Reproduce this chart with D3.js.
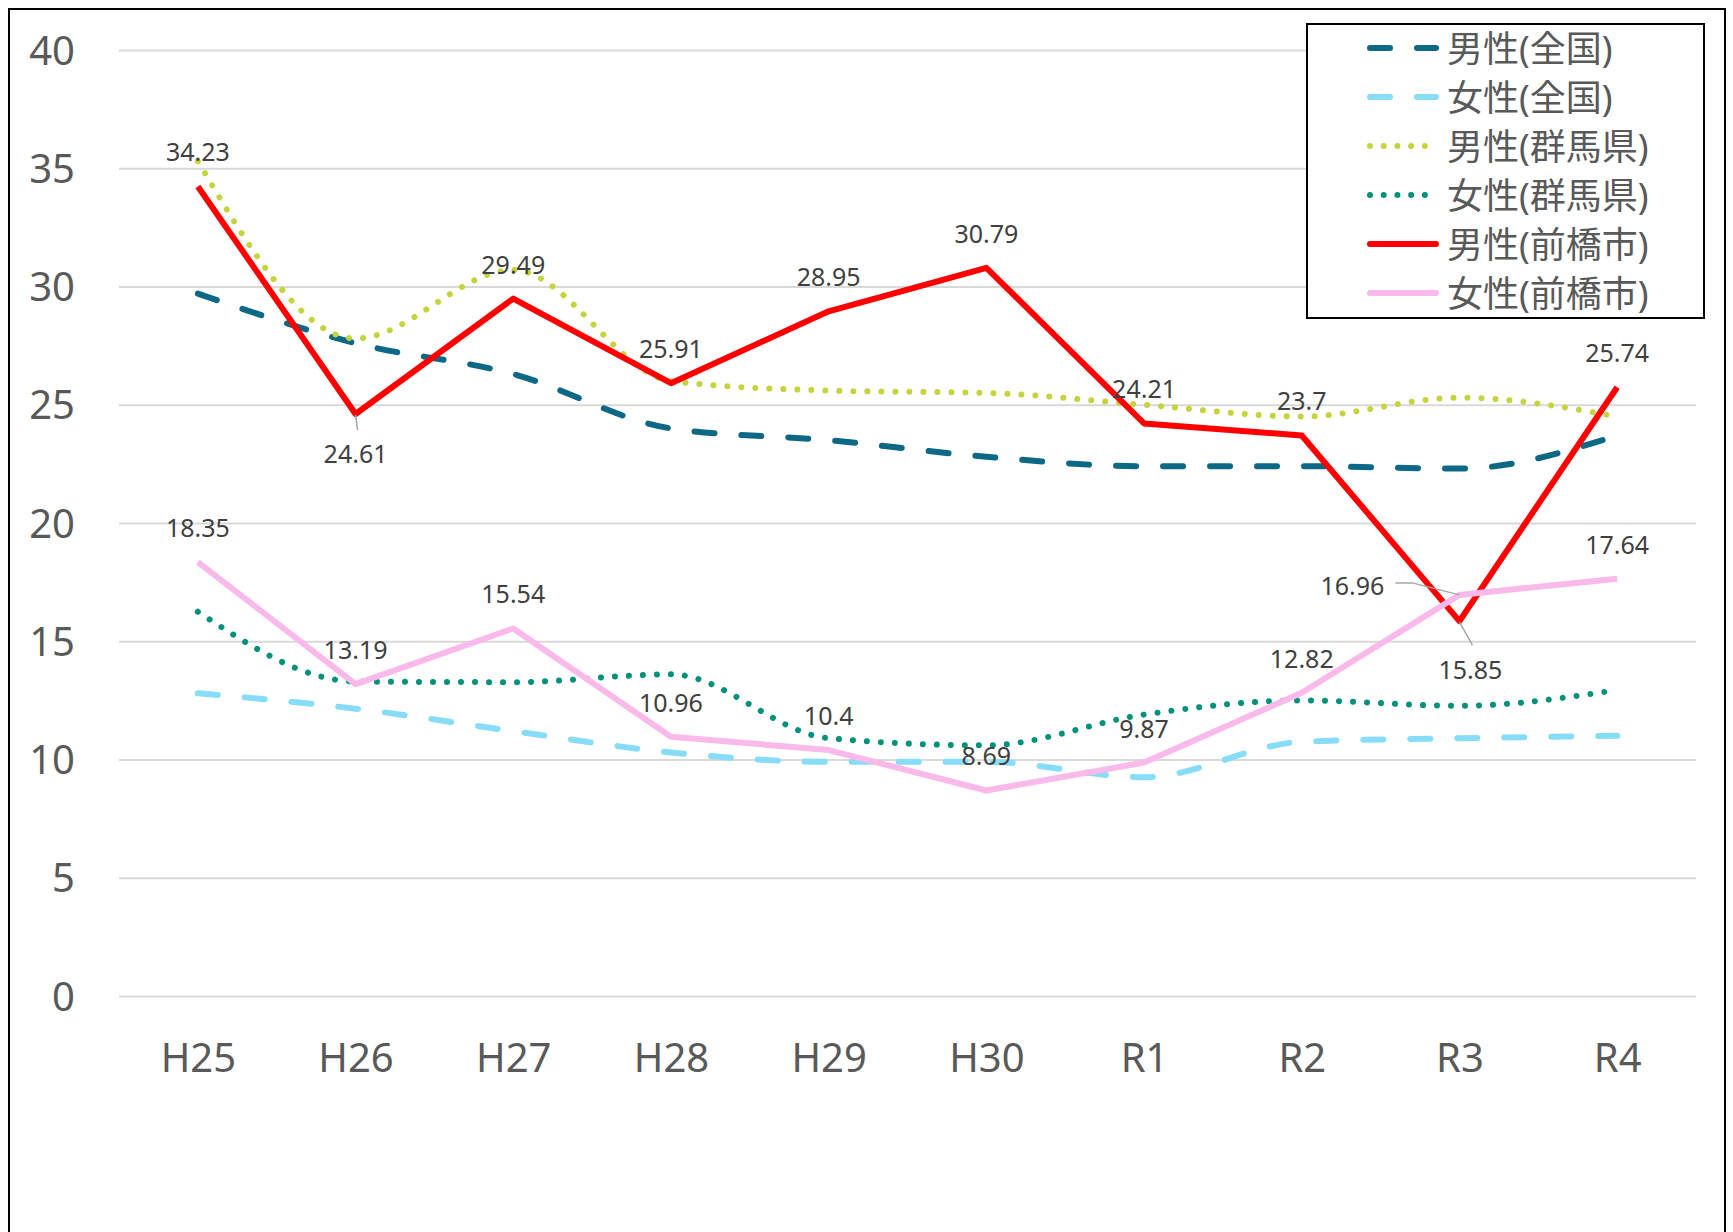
<!DOCTYPE html>
<html>
<head>
<meta charset="utf-8">
<script src="https://cdn.jsdelivr.net/npm/d3@7"></script>
<style>
  html, body { margin: 0; padding: 0; background: #fff; }
  svg { display: block; }
  text { font-family: "Noto Sans", "Noto Sans CJK JP", sans-serif; }
</style>
</head>
<body>
<svg id="chart"></svg>
<script>
"use strict";

// data
const categories = ["H25", "H26", "H27", "H28", "H29", "H30", "R1", "R2", "R3", "R4"];
const maleNational = [29.7, 27.6, 26.3, 24.0, 23.5, 22.8, 22.4, 22.4, 22.3, 23.7];
const femaleNational = [12.8, 12.15, 11.2, 10.3, 9.9, 9.9, 9.25, 10.75, 10.9, 11.0];
const maleGunma = [35.3, 27.8, 30.7, 26.0, 25.6, 25.5, 25.0, 24.5, 25.3, 24.5];
const femaleGunma = [16.25, 13.3, 13.27, 13.6, 10.9, 10.6, 11.9, 12.5, 12.27, 12.94];
const maleMaebashi = [34.23, 24.61, 29.49, 25.91, 28.95, 30.79, 24.21, 23.7, 15.85, 25.74];
const femaleMaebashi = [18.35, 13.19, 15.54, 10.96, 10.4, 8.69, 9.87, 12.82, 16.96, 17.64];
const yTicks = [0, 5, 10, 15, 20, 25, 30, 35, 40];

const W = 1733, H = 1232;

const series = [
    {name: "男性(全国)", values: maleNational, color: "#0d6886", dash: "20,27", smooth: true},
    {name: "女性(全国)", values: femaleNational, color: "#87dcf8", dash: "20,27", smooth: true},
    {name: "男性(群馬県)", values: maleGunma, color: "#c5d43c", dash: "0.01,14", smooth: true},
    {name: "女性(群馬県)", values: femaleGunma, color: "#00917a", dash: "0.01,14", smooth: true},
    {name: "男性(前橋市)", values: maleMaebashi, color: "#ff0000", dash: null, smooth: false, labels: true},
    {name: "女性(前橋市)", values: femaleMaebashi, color: "#f9b9ea", dash: null, smooth: false, labels: true}
];

// labels that excel moved away from the default spot (dx, dy from the point, leader line)
const labelMoves = {
    "男性(前橋市)|H26": {dx: 0, dy: 39, leader: [[0, 1], [2, 16]]},
    "男性(前橋市)|R3": {dx: 11, dy: 48, leader: [[0, 1], [13, 24]]},
    "女性(前橋市)|R3": {dx: -107, dy: -10, leader: [[-64, -12], [-47, -12], [0, 0]]}
};

let svg = d3.select("#chart")
    .attr("width", W)
    .attr("height", H);

svg.append("rect")
    .attr("width", W).attr("height", H)
    .attr("fill", "#fff");

let x = d3.scalePoint()
    .domain(categories)
    .range([119, 1696])
    .padding(0.5);

let y = d3.scaleLinear()
    .domain([0, 40])
    .range([996, 50]);

// gridlines
let yAxis = d3.axisLeft(y)
    .tickValues(yTicks)
    .tickSize(-(1696 - 119))
    .tickPadding(44)
    .tickFormat(d3.format("d"));

let gy = svg.append("g")
    .attr("transform", "translate(119,0)")
    .call(yAxis);
gy.select(".domain").remove();
gy.selectAll(".tick line")
    .attr("stroke", "#d9d9d9")
    .attr("stroke-width", 2);
gy.selectAll(".tick text")
    .attr("fill", "#595959")
    .attr("font-size", 40)
    .attr("dy", "0.35em");

let xAxis = d3.axisBottom(x).tickSize(0).tickPadding(0);
let gx = svg.append("g")
    .attr("transform", "translate(0,1044)")
    .call(xAxis);
gx.select(".domain").remove();
gx.selectAll(".tick text")
    .attr("fill", "#595959")
    .attr("font-size", 40)
    .attr("dy", "0.71em");

// lines
let plot = svg.append("g");
for (let s of series) {
    let line = d3.line()
        .x((d, i) => x(categories[i]))
        .y(d => y(d))
        .curve(s.smooth ? d3.curveMonotoneX : d3.curveLinear);
    let p = plot.append("path")
        .datum(s.values)
        .attr("d", line)
        .attr("fill", "none")
        .attr("stroke", s.color)
        .attr("stroke-width", 6)
        .attr("stroke-linejoin", "round")
        .attr("stroke-linecap", s.dash ? "round" : "butt");
    if (s.dash) p.attr("stroke-dasharray", s.dash);
}

// data labels
let labelG = svg.append("g");
for (let s of series) {
    if (!s.labels) continue;
    s.values.forEach((v, i) => {
        let px = x(categories[i]), py = y(v);
        let mv = labelMoves[s.name + "|" + categories[i]];
        let dx = mv ? mv.dx : 0, dy = mv ? mv.dy : -35;
        if (mv && mv.leader) {
            labelG.append("path")
                .attr("d", d3.line()(mv.leader.map(q => [px + q[0], py + q[1]])))
                .attr("fill", "none")
                .attr("stroke", "#a6a6a6")
                .attr("stroke-width", 1.5);
        }
        labelG.append("text")
            .attr("x", px + dx)
            .attr("y", py + dy)
            .attr("text-anchor", "middle")
            .attr("dominant-baseline", "central")
            .attr("font-size", 25)
            .attr("fill", "#404040")
            .text(String(v));
    });
}

// legend
let legend = svg.append("g");
legend.append("rect")
    .attr("x", 1307).attr("y", 24)
    .attr("width", 1704 - 1307).attr("height", 318 - 24)
    .attr("fill", "#fff")
    .attr("stroke", "#000")
    .attr("stroke-width", 2);

series.forEach((s, i) => {
    let ly = 48 + i * 49;
    let l = legend.append("line")
        .attr("x1", 1370).attr("x2", 1436)
        .attr("y1", ly).attr("y2", ly)
        .attr("stroke", s.color)
        .attr("stroke-width", 6)
        .attr("stroke-linecap", "round");
    if (s.dash) l.attr("stroke-dasharray", s.dash === "20,27" ? "20,27" : "0.01,13.7");
    legend.append("text")
        .attr("x", 1447)
        .attr("y", ly)
        .attr("dominant-baseline", "central")
        .attr("font-size", 36)
        .attr("font-family", "'Noto Sans CJK JP', sans-serif")
        .attr("fill", "#595959")
        .text(s.name);
});

// outer frame
svg.append("rect")
    .attr("x", 9).attr("y", 9)
    .attr("width", 1725 - 9).attr("height", H)
    .attr("fill", "none")
    .attr("stroke", "#000")
    .attr("stroke-width", 2);
</script>
</body>
</html>
